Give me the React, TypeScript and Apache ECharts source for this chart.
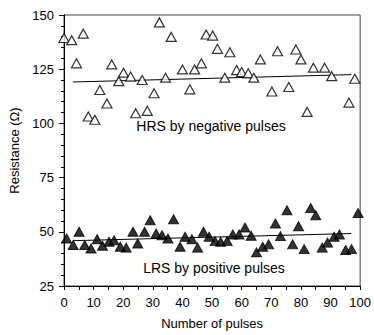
import React, { useEffect, useRef } from "react";
import * as echarts from "echarts";

const hrsX = [0, 2.6, 4.2, 6.5, 8.2, 10.4, 12.1, 14.5, 16.1, 18.5, 20.1, 22.5, 24.2, 26.4, 28.1, 30.4, 32.2, 34.3, 36.2, 40, 42.5, 44.1, 46.4, 48, 50.2, 51.8, 54.3, 56, 58.3, 60, 62.2, 64.1, 66.3, 70.2, 72.1, 75.9, 78.3, 80, 82.1, 84.2, 88, 90.4, 96.2, 98.2];
const hrsY = [139.4, 138.4, 127.7, 141.4, 103.2, 101.7, 115.4, 109.2, 127.2, 119.5, 123.4, 121.6, 104.7, 120, 105.8, 113.9, 146.6, 121.1, 139.9, 124.9, 115.7, 124.9, 127.7, 141, 140.5, 134.4, 121.1, 132.8, 124.6, 123.7, 123.1, 121.1, 129.5, 114.7, 133.3, 116.8, 134.1, 129.5, 105.3, 125.7, 125.7, 121.8, 109.6, 120.6];

const lrsX = [0.9, 3.1, 5.1, 7, 9.1, 11.2, 13, 15.2, 16.9, 19, 21, 23.3, 24.9, 27.2, 29.1, 31.1, 33.1, 35.1, 37, 39.2, 40.9, 43.2, 45.1, 47.1, 49, 51, 52.9, 55.1, 57, 59.1, 61.1, 63.2, 65, 67.1, 69.1, 71.4, 73.1, 75.3, 77.2, 79.2, 81.1, 83.3, 85, 87.2, 89, 91.2, 93, 95.1, 97.1, 99.3];
const lrsY = [46.9, 43.9, 50, 43.9, 42.3, 46.6, 43.6, 45.4, 46.1, 43.1, 42.7, 50, 44.6, 50, 55.3, 49.2, 48.4, 46.9, 55.8, 43.1, 47.7, 46.6, 42.7, 50, 47.7, 45.7, 45.4, 45.7, 48.8, 48.8, 52, 48.2, 40.5, 43.1, 44.2, 53.8, 48, 59.9, 44.2, 52.6, 42, 61, 57.6, 42.7, 45, 47.7, 48.8, 41.6, 42, 58.7];

const hrsTrendX = [3, 97];
const hrsTrendY = [119.1, 122.5];
const lrsTrendX = [3, 97];
const lrsTrendY = [45.9, 49.2];

const hrsLabel = "HRS by negative pulses";
const lrsLabel = "LRS by positive pulses";
const xName = "Number of pulses";
const yName = "Resistance (Ω)";

const FONT = "Liberation Sans, Arial, sans-serif";

export default function App() {
  const ref = useRef<HTMLDivElement>(null);
  useEffect(() => {
    if (!ref.current) return;
    const chart = echarts.init(ref.current, null, { renderer: "svg" });
    const zip = (xs: number[], ys: number[]) => xs.map((x, i) => [x, ys[i]]);
    chart.setOption({
      animation: false,
      backgroundColor: "#ffffff",
      textStyle: { fontFamily: FONT, color: "#000" },
      grid: { left: 64, right: 12, top: 15, bottom: 47, show: true, borderColor: "#444", borderWidth: 1, backgroundColor: "transparent" },
      xAxis: {
        type: "value",
        min: 0,
        max: 100,
        interval: 10,
        name: xName,
        nameLocation: "middle",
        nameGap: 31,
        nameTextStyle: { fontSize: 13, color: "#000", fontFamily: FONT },
        axisLine: { show: true, lineStyle: { color: "#000", width: 1 } },
        axisTick: { show: true, length: 4, lineStyle: { color: "#000" } },
        minorTick: { show: true, splitNumber: 2, length: 4, lineStyle: { color: "#000" } },
        axisLabel: { fontSize: 13, color: "#000", margin: 10, fontFamily: FONT },
        splitLine: { show: false },
      },
      yAxis: {
        type: "value",
        min: 25,
        max: 150,
        interval: 25,
        name: yName,
        nameLocation: "middle",
        nameGap: 36,
        nameRotate: 90,
        nameTextStyle: { fontSize: 13, color: "#000", fontFamily: FONT },
        axisLine: { show: true, lineStyle: { color: "#000", width: 1 } },
        axisTick: { show: true, length: 5, lineStyle: { color: "#000" } },
        minorTick: { show: true, splitNumber: 5, length: 3, lineStyle: { color: "#000" } },
        axisLabel: { fontSize: 13, color: "#000", margin: 10, fontFamily: FONT },
        splitLine: { show: false },
      },
      series: [
        {
          type: "scatter",
          data: zip(hrsX, hrsY),
          symbol: "triangle",
          symbolSize: [10, 9],
          itemStyle: { color: "#fff", borderColor: "#000", borderWidth: 1.2 },
          z: 3,
        },
        {
          type: "scatter",
          data: zip(lrsX, lrsY),
          symbol: "triangle",
          symbolSize: [10, 9],
          itemStyle: { color: "#000", borderColor: "#000", borderWidth: 1 },
          z: 3,
        },
        {
          type: "line",
          data: zip(hrsTrendX, hrsTrendY),
          showSymbol: false,
          symbol: "none",
          lineStyle: { color: "#000", width: 1 },
          z: 2,
        },
        {
          type: "line",
          data: zip(lrsTrendX, lrsTrendY),
          showSymbol: false,
          symbol: "none",
          lineStyle: { color: "#000", width: 1 },
          z: 2,
        },
      ],
      graphic: [
        {
          type: "text",
          x: 211,
          y: 126,
          style: { text: hrsLabel, fontSize: 14, fill: "#000", fontFamily: FONT, align: "center", verticalAlign: "middle" },
          z: 10,
        },
        {
          type: "text",
          x: 214,
          y: 268,
          style: { text: lrsLabel, fontSize: 14, fill: "#000", fontFamily: FONT, align: "center", verticalAlign: "middle" },
          z: 10,
        },
      ],
    });
    return () => chart.dispose();
  }, []);
  return <div ref={ref} style={{ position: "fixed", left: 0, top: 0, width: 374, height: 335 }} />;
}
